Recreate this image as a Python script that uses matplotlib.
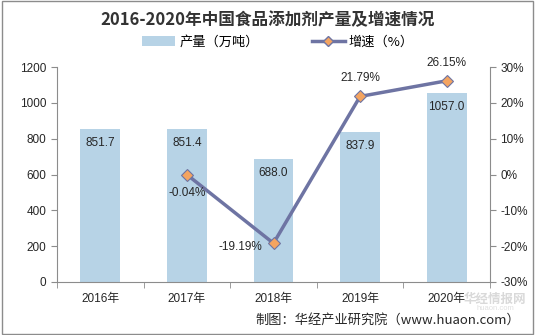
import matplotlib
matplotlib.use("Agg")
import matplotlib.pyplot as plt
from matplotlib.lines import Line2D
from matplotlib.patches import Patch, Rectangle

plt.rcParams['font.family'] = ['Liberation Sans', 'Noto Sans CJK SC', 'DejaVu Sans']

years = ["2016年", "2017年", "2018年", "2019年", "2020年"]
output = [851.7, 851.4, 688.0, 837.9, 1057.0]
growth_years = ["2017年", "2018年", "2019年", "2020年"]
growth = [-0.04, -19.19, 21.79, 26.15]
left_ticks = [0, 200, 400, 600, 800, 1000, 1200]
right_ticks = [-30, -20, -10, 0, 10, 20, 30]

bar_color = "#b7d3e6"
line_color = "#6e74a3"
marker_color = "#f4a460"
axis_color = "#8c8c8c"
text_color = "#262626"

fig = plt.figure(figsize=(5.35, 3.35), dpi=100)
ax = fig.add_axes([57 / 535, 53 / 335, 433 / 535, 215 / 335])
ax2 = ax.twinx()

x = list(range(len(years)))
ax.bar(x, output, width=0.46, color=bar_color, zorder=1)
for xi, v in zip(x, output):
    ax.annotate(f"{v:.1f}", (xi, v), xytext=(0, -10), textcoords="offset points",
                ha="center", va="center", fontsize=8.5, color=text_color)

ax.set_xlim(-0.5, len(years) - 0.5)
ax.set_ylim(0, 1200)
ax.set_yticks(left_ticks)
ax.set_xticks(x)
ax.set_xticklabels(years)
ax.set_xticks([i - 0.5 for i in range(len(years) + 1)], minor=True)
ax.tick_params(axis="x", which="major", length=0, pad=8, labelsize=8.5, colors=text_color)
ax.tick_params(axis="x", which="minor", length=4, color=axis_color)
ax.tick_params(axis="y", length=4, color=axis_color, labelsize=8.5, labelcolor=text_color)

gx = [years.index(g) for g in growth_years]
ax2.plot(gx, growth, color=line_color, lw=2.5, marker="D", ms=6,
         markerfacecolor=marker_color, markeredgecolor=line_color, markeredgewidth=0.8, zorder=3)
ax2.set_ylim(-30, 30)
ax2.set_yticks(right_ticks)
ax2.set_yticklabels([f"{t}%" for t in right_ticks])
ax2.tick_params(axis="y", length=4, color=axis_color, labelsize=8.5, labelcolor=text_color)

offsets = {"2017年": (0, -13), "2018年": (-24, -3),
           "2019年": (0, 13), "2020年": (0, 13)}
for g, xi, v in zip(growth_years, gx, growth):
    dx, dy = offsets[g]
    ax2.annotate(f"{v:.2f}%", (xi, v), xytext=(dx, dy), textcoords="offset points",
                 ha="center", va="center", fontsize=8.5, color=text_color)

for a in (ax, ax2):
    a.spines["top"].set_visible(False)
    for s in ("left", "right", "bottom"):
        a.spines[s].set_color(axis_color)
        a.spines[s].set_linewidth(0.8)
ax.spines["right"].set_visible(False)
ax2.spines["left"].set_visible(False)
ax2.spines["bottom"].set_visible(False)

fig.text(0.5, 1 - 20 / 335, "2016-2020年中国食品添加剂产量及增速情况", ha="center", va="center",
         fontsize=12, fontweight="bold", color="#333333",
         family=["Noto Sans CJK SC", "DejaVu Sans"])

handles = [Patch(facecolor=bar_color, edgecolor="none"),
           Line2D([0], [0], color=line_color, lw=2.5, marker="D", ms=5,
                  markerfacecolor=marker_color, markeredgecolor=line_color)]
fig.legend(handles, ["产量（万吨）", "增速（%）"], loc="center", bbox_to_anchor=(278 / 535, 1 - 42 / 335),
           ncol=2, frameon=False, handlelength=2.5, handletextpad=0.3, columnspacing=4,
           prop={"family": ["Noto Sans CJK SC", "DejaVu Sans"], "size": 9.5})

# faint site mark near the lower right corner
fig.text(495 / 535, 1 - 299 / 335, "华经情报网", ha="center", va="center", fontsize=9,
         fontweight="bold", color="#d9d9d9", zorder=0,
         family=["Noto Sans CJK SC", "DejaVu Sans"])
fig.text(495 / 535, 1 - 308.5 / 335, "huaon.com", ha="center", va="center", fontsize=5.5,
         color="#e0e0e0", zorder=0)

fig.text(520 / 535, 1 - 320 / 335, "制图：华经产业研究院（www.huaon.com）", ha="right", va="center",
         fontsize=9.5, color=text_color, family=["Noto Sans CJK SC", "DejaVu Sans"])

fig.patches.append(Rectangle((0.004, 0.004), 0.992, 0.992, transform=fig.transFigure,
                             fill=False, edgecolor="#8c8c8c", lw=1))

fig.savefig("out.png", dpi=100)
